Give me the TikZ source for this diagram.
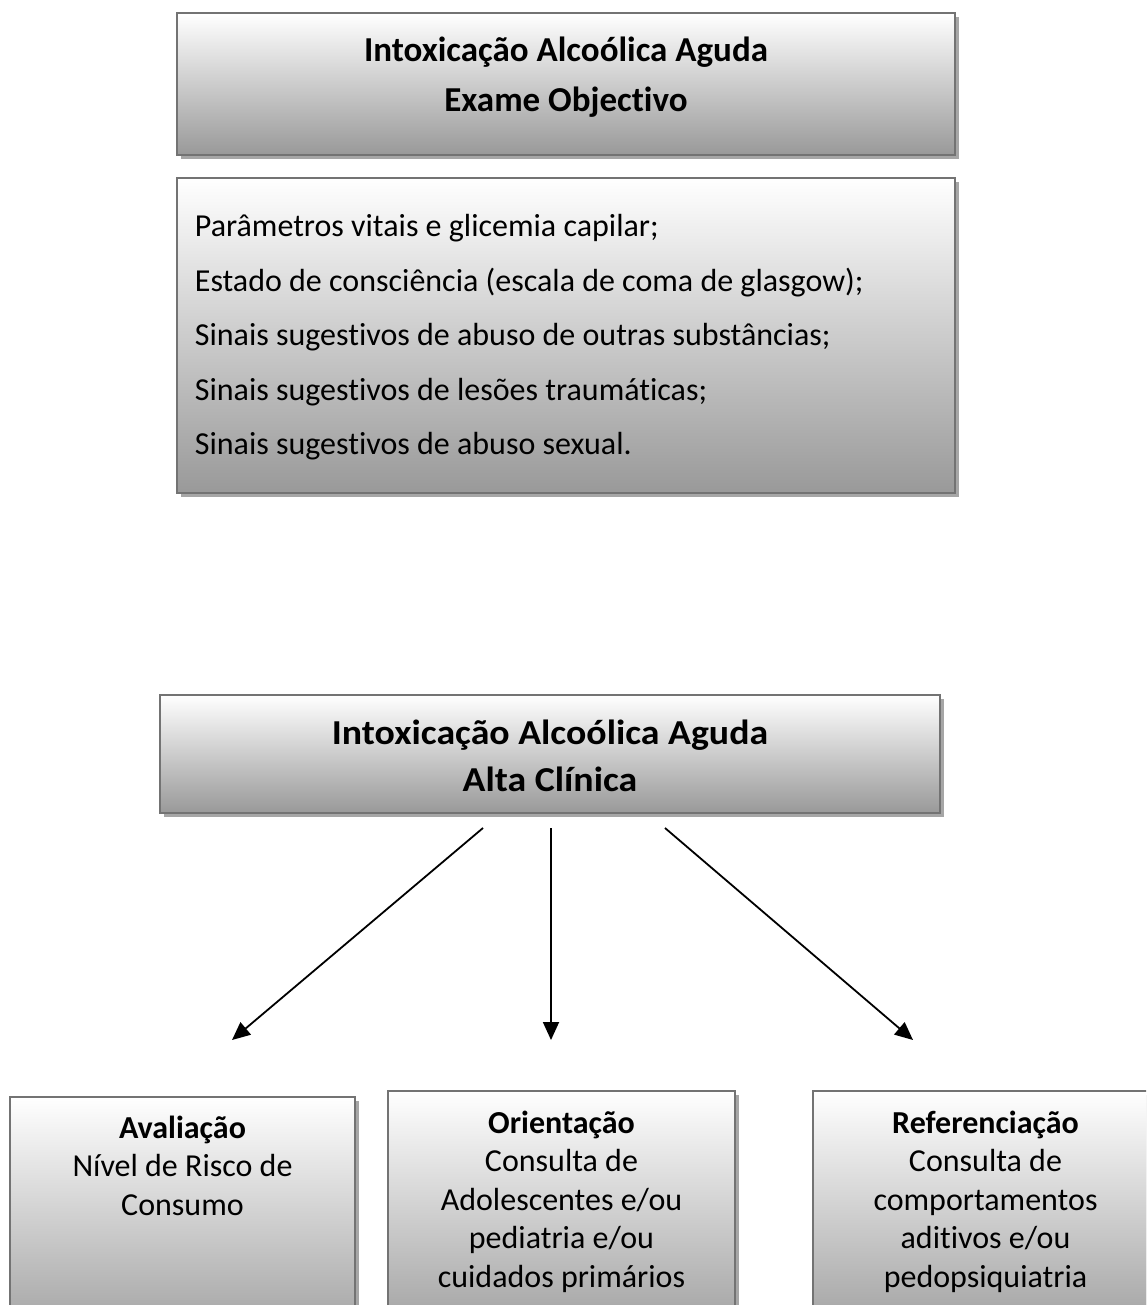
\documentclass[tikz,border=0pt]{standalone}
\usepackage{fontspec}
\setmainfont[Ligatures=NoCommon]{Carlito}
\newfontfamily\wideb[FakeStretch=1.08,Ligatures=NoCommon]{Carlito}
\usetikzlibrary{arrows.meta,shadows,positioning}
\tikzset{
  gbox/.style={draw=black!55, line width=1.3pt, top color=white, bottom color=black!40,
    drop shadow={shadow xshift=4pt, shadow yshift=-4pt, fill=black!35, opacity=1},
    rectangle, inner sep=0pt},
  conn/.style={line width=1.8pt, -{Triangle[length=18pt,width=16pt]}},
  ttl/.style={font=\bfseries\fontsize{35}{50}\selectfont, align=center},
  ttlb/.style={font=\wideb\bfseries\fontsize{35}{47}\selectfont, align=center},
  lst/.style={font=\fontsize{32}{54.5}\selectfont, align=left},
  low/.style={font=\fontsize{32}{38.5}\selectfont, align=center, anchor=north}
}
\begin{document}
\begin{tikzpicture}[x=1pt,y=-1pt]
\useasboundingbox (0,0) rectangle (1146,1305);
\clip (0,0) rectangle (1146,1305);
% top boxes
\node[gbox, minimum width=778pt, minimum height=142pt] (b1) at (566,84) {};
\node[ttl] (t1) at ([yshift=7pt]b1.center) {Intoxicação Alcoólica Aguda\\Exame Objectivo};
\node[gbox, minimum width=778pt, minimum height=315pt] (b2) at (566,335.5) {};
\node[lst, anchor=west] (t2) at ([xshift=15pt,yshift=-2pt]b2.west) {Parâmetros vitais e glicemia capilar;\\Estado de consciência (escala de coma de glasgow);\\Sinais sugestivos de abuso de outras substâncias;\\Sinais sugestivos de lesões traumáticas;\\Sinais sugestivos de abuso sexual.};
\node[gbox, minimum width=780pt, minimum height=118pt] (b3) at (550,754) {};
\node[ttlb] (t3) at ([yshift=-2pt]b3.center) {Intoxicação Alcoólica Aguda\\Alta Clínica};
% bottom boxes
\node[gbox, minimum width=345pt, minimum height=260pt] (ba) at (182.5,1227) {};
\node[gbox, minimum width=347pt, minimum height=260pt] (bb) at (561.5,1221) {};
\node[gbox, minimum width=345pt, minimum height=260pt] (bc) at (985.5,1221) {};
\node[low] (ta) at ([yshift=-16pt]ba.north) {\textbf{Avaliação}\\Nível de Risco de\\Consumo};
\node[low] (tb) at ([yshift=-17pt]bb.north) {\textbf{Orientação}\\Consulta de\\Adolescentes e/ou\\pediatria e/ou\\cuidados primários};
\node[low] (tc) at ([yshift=-17pt]bc.north) {\textbf{Referenciação}\\Consulta de\\comportamentos\\aditivos e/ou\\pedopsiquiatria};
% arrow ends
\coordinate (sa) at (483,828);
\coordinate (sb) at (551,828);
\coordinate (sc) at (665,828);
\coordinate (ea) at (232,1040);
\coordinate (eb) at (551,1040);
\coordinate (ec) at (913,1040);
\draw[conn] (sa) -- (ea);
\draw[conn] (sb) -- (eb);
\draw[conn] (sc) -- (ec);
\end{tikzpicture}
\end{document}
